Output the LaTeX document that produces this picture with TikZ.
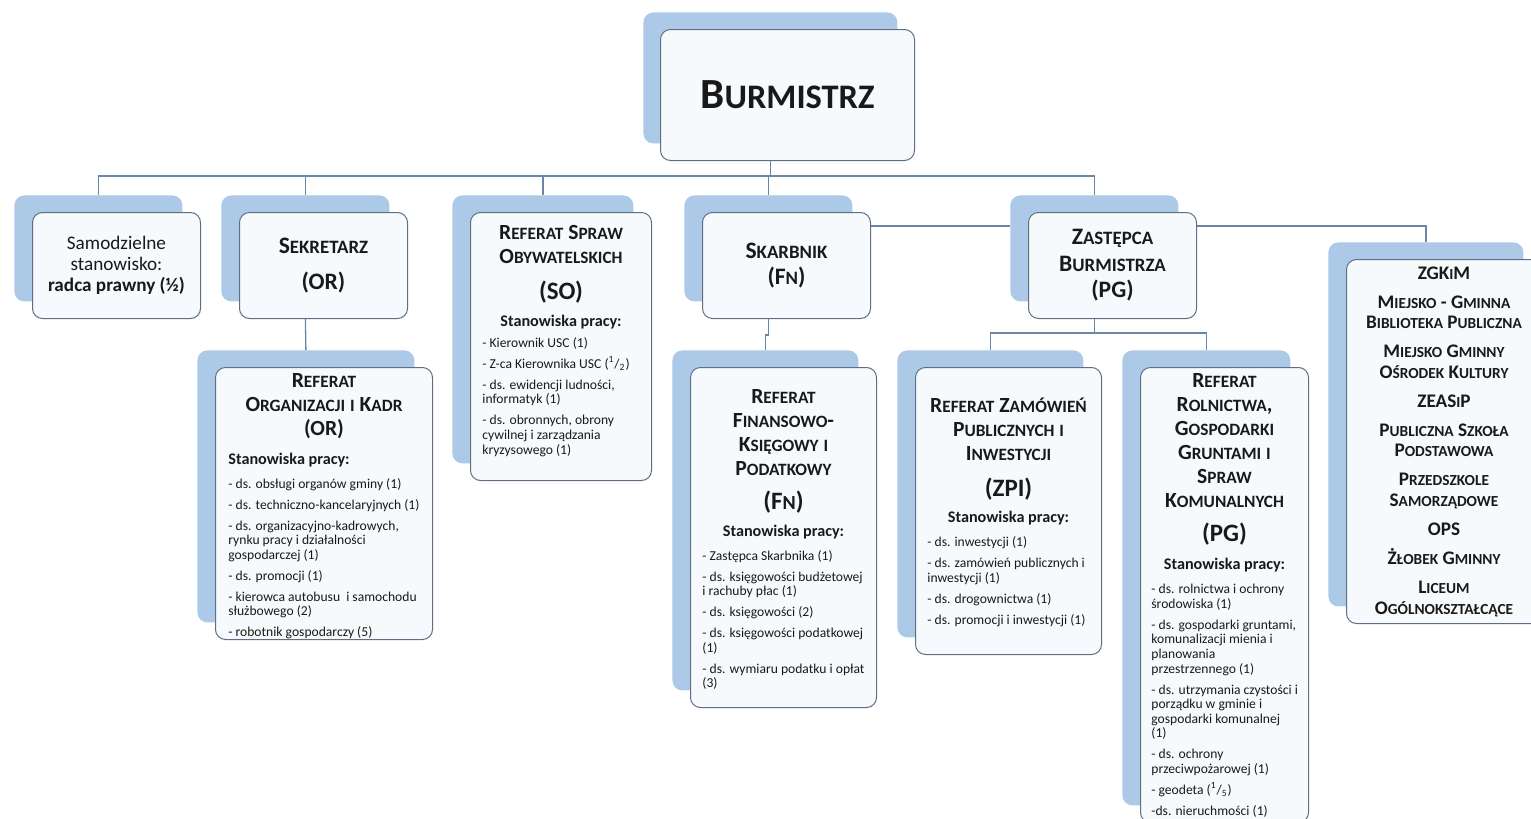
\documentclass[tikz,border=0pt]{standalone}
\usepackage{graphicx}
\usepackage{fontspec}
\setmainfont{Carlito}
\usetikzlibrary{positioning,calc}

\definecolor{cien}{RGB}{172,201,231}
\definecolor{wypelnienie}{RGB}{247,250,253}
\definecolor{obwodka}{RGB}{95,110,130}
\definecolor{linia}{RGB}{105,135,165}
\definecolor{tekst}{RGB}{25,25,25}
\newcommand{\kp}[1]{\scalebox{0.8}{#1}}

\begin{document}
\begin{tikzpicture}[x=0.5pt,y=-0.5pt,
    tlo/.style={anchor=north west,rounded corners=5pt,fill=cien,inner sep=0pt},
    ramka/.style={anchor=north west,rounded corners=5pt,fill=wypelnienie,draw=obwodka,line width=0.5pt,inner sep=0pt},
    wym/.style 2 args={minimum width=#1,minimum height=#2},
    tytul/.style={font=\bfseries\fontsize{10.8}{12}\selectfont,align=center,inner sep=0pt,text=tekst},
    maly/.style={font=\bfseries\fontsize{11.8}{13.2}\selectfont,align=center,inner sep=0pt,text=tekst},
    kod/.style={font=\bfseries\fontsize{12.5}{14}\selectfont,inner sep=0pt,text=tekst},
    stan/.style={font=\bfseries\fontsize{8.1}{9.5}\selectfont,inner sep=0pt,text=tekst},
    lista/.style={font=\fontsize{6.8}{7.3}\selectfont,align=left,inner sep=0pt,text=tekst,anchor=north west},
    lacze/.style={draw=linia,line width=0.65pt}]

    \useasboundingbox (0,0) rectangle (1531,819);

    % 一番上の箱
    \node[tlo,wym={127pt}{65.5pt}] (bburm) at (643,12) {};
    \node[ramka,wym={127pt}{65.5pt}] (burm) at ($(bburm.north west)+(17,17)$) {};
    \node[font=\bfseries\fontsize{21.5}{24}\selectfont,text=tekst,inner sep=0pt] (burmT) at (burm.center) {B\kp{URMISTRZ}};

    % 二段目
    \node[tlo,wym={84pt}{53pt}] (bsam) at (14,195) {};
    \node[ramka,wym={84pt}{53pt}] (sam) at ($(bsam.north west)+(18,17)$) {};
    \node[font=\fontsize{9.6}{10.6}\selectfont,align=center,text=tekst,inner sep=0pt] (samT) at (sam.center) {Samodzielne\\stanowisko:\\\textbf{radca prawny (½)}};

    \node[tlo,wym={84pt}{53pt}] (bsek) at (221,195) {};
    \node[ramka,wym={84pt}{53pt}] (sek) at ($(bsek.north west)+(18,17)$) {};
    \node[maly] (sekT) at (sek.center) {S\kp{EKRETARZ}\\[5pt](OR)};

    \node[tlo,wym={90.5pt}{134pt}] (brso) at (452,195) {};
    \node[ramka,wym={90.5pt}{134pt}] (rso) at ($(brso.north west)+(18,17)$) {};
    \node[tytul,below=6.5pt of rso.north] (rsoT) {R\kp{EFERAT} S\kp{PRAW}\\O\kp{BYWATELSKICH}};
    \node[kod,below=8pt of rsoT] (rsoK) {(SO)};
    \node[stan,below=5.5pt of rsoK] (rsoS) {Stanowiska pracy:};
    \node[lista] (rsoL) at ($(rsoS.south -| rso.west)+(12,8)$) {- Kierownik USC (1)\\[3.2pt]
        - Z-ca Kierownika USC (\textsuperscript{1}/\textsubscript{2})\\[3.2pt]
        - ds. ewidencji ludności,\\informatyk (1)\\[3.2pt]
        - ds. obronnych, obrony\\cywilnej i zarządzania\\kryzysowego (1)};

    \node[tlo,wym={84pt}{53pt}] (bska) at (684,195) {};
    \node[ramka,wym={84pt}{53pt}] (ska) at ($(bska.north west)+(18,17)$) {};
    \node[maly] (skaT) at (ska.center) {S\kp{KARBNIK}\\(F\kp{N})};

    \node[tlo,wym={84pt}{53pt}] (bzas) at (1010,195) {};
    \node[ramka,wym={84pt}{53pt}] (zas) at ($(bzas.north west)+(18,17)$) {};
    \node[maly] (zasT) at (zas.center) {Z\kp{ASTĘPCA}\\B\kp{URMISTRZA}\\(PG)};

    \node[tlo,wym={97.5pt}{182pt}] (bzgk) at (1328,242) {};
    \node[ramka,wym={97.5pt}{182pt}] (zgk) at ($(bzgk.north west)+(18,17)$) {};
    \node[font=\bfseries\fontsize{9.6}{10.3}\selectfont,align=center,text=tekst,inner sep=0pt] (zgkT) at (zgk.center) {ZGK\kp{I}M\\[4.2pt]
        M\kp{IEJSKO} - G\kp{MINNA}\\B\kp{IBLIOTEKA} P\kp{UBLICZNA}\\[4.2pt]
        M\kp{IEJSKO} G\kp{MINNY}\\O\kp{ŚRODEK} K\kp{ULTURY}\\[4.2pt]
        ZEAS\kp{I}P\\[4.2pt]
        P\kp{UBLICZNA} S\kp{ZKOŁA}\\P\kp{ODSTAWOWA}\\[4.2pt]
        P\kp{RZEDSZKOLE}\\S\kp{AMORZĄDOWE}\\[4.2pt]
        OPS\\[4.2pt]
        Ż\kp{ŁOBEK} G\kp{MINNY}\\[4.2pt]
        L\kp{ICEUM}\\O\kp{GÓLNOKSZTAŁCĄCE}};

    % 三段目
    \node[tlo,wym={108.5pt}{136pt}] (borg) at (197,350) {};
    \node[ramka,wym={108.5pt}{136pt}] (org) at ($(borg.north west)+(18,17)$) {};
    \node[tytul,below=3pt of org.north] (orgT) {R\kp{EFERAT}\\O\kp{RGANIZACJI} \kp{I} K\kp{ADR}\\(OR)};
    \node[stan,anchor=north west] (orgS) at ($(orgT.south -| org.west)+(13,14)$) {Stanowiska pracy:};
    \node[lista] (orgL) at ($(orgS.south -| org.west)+(13,10)$) {- ds. obsługi organów gminy (1)\\[3.2pt]
        - ds. techniczno-kancelaryjnych (1)\\[3.2pt]
        - ds. organizacyjno-kadrowych,\\rynku pracy i działalności\\gospodarczej (1)\\[3.2pt]
        - ds. promocji (1)\\[3.2pt]
        - kierowca autobusu\ \ i samochodu\\służbowego (2)\\[3.2pt]
        - robotnik gospodarczy (5)};

    \node[tlo,wym={93pt}{170pt}] (bfin) at (672,350) {};
    \node[ramka,wym={93pt}{170pt}] (fin) at ($(bfin.north west)+(18,17)$) {};
    \node[tytul,below=11pt of fin.north] (finT) {R\kp{EFERAT}\\F\kp{INANSOWO}-\\K\kp{SIĘGOWY} \kp{I}\\P\kp{ODATKOWY}};
    \node[kod,below=7.5pt of finT] (finK) {(F\kp{N})};
    \node[stan,below=5.5pt of finK] (finS) {Stanowiska pracy:};
    \node[lista] (finL) at ($(finS.south -| fin.west)+(12,10)$) {- Zastępca Skarbnika (1)\\[3.2pt]
        - ds. księgowości budżetowej\\i rachuby płac (1)\\[3.2pt]
        - ds. księgowości (2)\\[3.2pt]
        - ds. księgowości podatkowej\\(1)\\[3.2pt]
        - ds. wymiaru podatku i opłat\\(3)};

    \node[tlo,wym={93pt}{143.5pt}] (bzpi) at (897,350) {};
    \node[ramka,wym={93pt}{143.5pt}] (zpi) at ($(bzpi.north west)+(18,17)$) {};
    \node[tytul,below=15.5pt of zpi.north] (zpiT) {R\kp{EFERAT} Z\kp{AMÓWIEŃ}\\P\kp{UBLICZNYCH} \kp{I}\\I\kp{NWESTYCJI}};
    \node[kod,below=8pt of zpiT] (zpiK) {(ZPI)};
    \node[stan,below=5pt of zpiK] (zpiS) {Stanowiska pracy:};
    \node[lista] (zpiL) at ($(zpiS.south -| zpi.west)+(12,11)$) {- ds. inwestycji (1)\\[3.2pt]
        - ds. zamówień publicznych i\\inwestycji (1)\\[3.2pt]
        - ds. drogownictwa (1)\\[3.2pt]
        - ds. promocji i inwestycji (1)};

    \node[tlo,wym={84pt}{227.5pt}] (brol) at (1122,350) {};
    \node[ramka,wym={84pt}{227.5pt}] (rol) at ($(brol.north west)+(18,17)$) {};
    \node[tytul,below=3pt of rol.north] (rolT) {R\kp{EFERAT}\\R\kp{OLNICTWA},\\G\kp{OSPODARKI}\\G\kp{RUNTAMI} \kp{I}\\S\kp{PRAW}\\K\kp{OMUNALNYCH}};
    \node[kod,below=7.5pt of rolT] (rolK) {(PG)};
    \node[stan,below=6pt of rolK] (rolS) {Stanowiska pracy:};
    \node[lista] (rolL) at ($(rolS.south -| rol.west)+(11,11)$) {- ds. rolnictwa i ochrony\\środowiska (1)\\[3.2pt]
        - ds. gospodarki gruntami,\\komunalizacji mienia i\\planowania\\przestrzennego (1)\\[3.2pt]
        - ds. utrzymania czystości i\\porządku w gminie i\\gospodarki komunalnej\\(1)\\[3.2pt]
        - ds. ochrony\\przeciwpożarowej (1)\\[3.2pt]
        - geodeta (\textsuperscript{1}/\textsubscript{5})\\[3.2pt]
        -ds. nieruchmości (1)};

    % 接続線
    \coordinate (szyna) at (0,176);
    \coordinate (poziom) at (0,226);
    \coordinate (szyna2) at (0,335);
    \coordinate (szyna3) at (0,333);
    \draw[lacze] (bburm.south |- burm.south) -- (bburm.south |- szyna) -| (bsam.north);
    \draw[lacze] (bburm.south |- szyna) -| (bsek.north);
    \draw[lacze] (bburm.south |- szyna) -| (brso.north);
    \draw[lacze] (bburm.south |- szyna) -| (bska.north);
    \draw[lacze] (bburm.south |- szyna) -| (bzas.north);
    \draw[lacze] (bsek.south |- sek.south) -- (borg.north);
    \draw[lacze] (bska.south |- ska.south) |- (szyna2 -| bfin.north) -- (bfin.north);
    \draw[lacze] (ska.east |- poziom) -- (bzas.west |- poziom);
    \draw[lacze] (zas.east |- poziom) -| (bzgk.north);
    \draw[lacze] (bzas.south |- zas.south) -- (bzas.south |- szyna3) -| (bzpi.north);
    \draw[lacze] (bzas.south |- szyna3) -| (brol.north);
\end{tikzpicture}
\end{document}
